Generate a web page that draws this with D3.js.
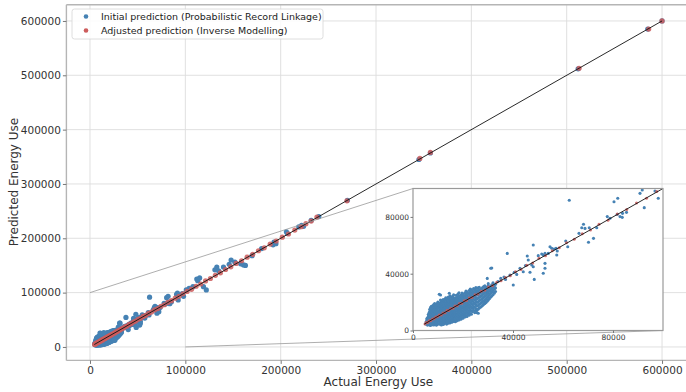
<!DOCTYPE html>
<html>
<head>
<meta charset="utf-8">
<script src="https://cdn.jsdelivr.net/npm/d3@7"></script>
<style>
body { margin: 0; background: #fff; }
svg { font-family: "DejaVu Sans", sans-serif; }
</style>
</head>
<body>
<svg id="chart" width="686" height="392"></svg>
<script>
// all values in thousands of energy units

// dense cluster of the initial prediction: [actual, [predicted ...]]
const clusterColumns = [
  [5.2, [4.5, 6.0]],
  [5.5, [5.0, 6.8, 8.2]],
  [5.8, [3.8, 5.5, 7.2, 9.0]],
  [6.1, [4.6, 7.0, 9.4, 11.2]],
  [6.4, [4.2, 6.1, 8.3, 10.5, 12.4]],
  [6.7, [3.9, 5.8, 8.0, 10.0, 13.3, 15.0]],
  [7.0, [3.5, 5.4, 7.6, 9.8, 11.9, 14.2, 16.1]],
  [7.35, [4.7, 6.9, 9.1, 11.2, 13.5, 15.7, 17.0]],
  [7.7, [4.1, 6.3, 8.5, 10.6, 12.8, 15.0]],
  [8.0, [4.5, 6.8, 9.2, 11.5, 13.7, 15.9, 17.6]],
  [8.3, [3.9, 5.8, 7.9, 10.1, 12.2, 14.5, 16.8, 18.2]],
  [8.65, [4.8, 7.0, 9.3, 11.6, 13.8, 16.0, 18.9]],
  [9.0, [4.4, 6.5, 8.7, 11.0, 13.1, 15.4, 17.3]],
  [9.3, [3.8, 5.4, 7.6, 9.9, 12.1, 14.3, 16.4, 18.4]],
  [9.6, [4.0, 5.9, 8.0, 10.2, 12.3, 14.6, 16.5, 19.0]],
  [9.95, [4.9, 7.1, 9.4, 11.7, 13.9, 16.2, 17.9, 20.1]],
  [10.3, [4.6, 6.8, 9.1, 11.4, 13.5, 15.8, 18.0]],
  [10.65, [5.3, 7.7, 10.0, 12.3, 14.6, 16.9, 19.0]],
  [11.0, [4.3, 6.2, 8.4, 10.6, 12.9, 15.1, 17.2, 19.6, 21.5]],
  [11.35, [3.9, 5.6, 7.8, 10.0, 12.3, 14.6, 16.8, 18.9, 20.9]],
  [11.7, [5.0, 7.3, 9.5, 11.8, 14.0, 16.3, 18.4, 20.2]],
  [12.05, [4.2, 6.0, 8.4, 10.7, 12.9, 15.2, 17.4, 19.6, 21.8]],
  [12.4, [4.7, 6.6, 8.9, 11.1, 13.4, 15.6, 17.9, 20.8]],
  [12.75, [5.7, 8.1, 10.4, 12.8, 15.0, 17.3, 19.6, 22.0]],
  [13.1, [5.3, 7.6, 9.9, 12.2, 14.4, 16.7, 19.0, 21.3, 23.0]],
  [13.45, [4.5, 6.6, 8.9, 11.2, 13.5, 15.8, 18.1, 20.3, 22.6]],
  [13.8, [5.6, 8.0, 10.4, 12.6, 14.9, 17.3, 19.5, 22.1]],
  [14.15, [5.1, 7.2, 9.5, 11.9, 14.1, 16.4, 18.7, 21.0, 23.6]],
  [14.5, [6.0, 8.3, 10.7, 13.0, 15.3, 17.7, 20.0, 22.5]],
  [14.85, [5.4, 7.4, 9.9, 12.2, 14.5, 16.8, 19.1, 21.4, 24.4]],
  [15.2, [6.4, 8.8, 11.2, 13.6, 15.9, 18.2, 20.6, 23.4]],
  [15.55, [5.8, 7.8, 10.2, 12.6, 15.0, 17.3, 19.7, 22.2]],
  [15.9, [7.0, 9.4, 11.8, 14.1, 16.5, 18.8, 21.2, 24.0]],
  [16.25, [6.3, 8.4, 10.8, 13.2, 15.6, 17.9, 20.3, 22.8, 25.2]],
  [16.6, [7.5, 10.0, 12.3, 14.7, 17.1, 19.4, 21.9]],
  [16.95, [6.2, 8.7, 11.1, 13.5, 15.9, 18.3, 20.7, 23.0]],
  [17.3, [7.2, 9.6, 12.0, 14.4, 16.8, 19.2, 21.6, 24.8]],
  [17.65, [6.9, 8.8, 11.3, 13.7, 16.1, 18.5, 20.9, 23.3]],
  [18.0, [8.1, 10.5, 12.9, 15.3, 17.7, 20.1, 22.5, 25.6]],
  [18.4, [7.4, 9.6, 12.0, 14.5, 16.9, 19.3, 21.7, 24.2, 26.6]],
  [18.8, [8.6, 11.0, 13.5, 15.9, 18.3, 20.7, 23.2]],
  [19.2, [8.0, 10.2, 12.7, 15.1, 17.5, 20.0, 22.4, 24.9]],
  [19.6, [9.2, 11.7, 14.1, 16.6, 19.0, 21.5, 24.0, 26.4]],
  [20.0, [8.7, 11.0, 13.4, 15.9, 18.4, 20.8, 23.3, 25.7]],
  [20.4, [10.0, 12.4, 14.9, 17.3, 19.8, 22.3, 24.7]],
  [20.8, [9.5, 11.6, 14.1, 16.6, 19.0, 21.5, 24.0, 26.5]],
  [21.2, [10.6, 13.1, 15.6, 18.1, 20.6, 23.1, 25.5, 27.8]],
  [21.6, [9.9, 12.3, 14.8, 17.3, 19.7, 22.2, 24.7, 27.0]],
  [22.0, [11.5, 14.0, 16.4, 18.9, 21.4, 23.8, 26.2]],
  [22.45, [10.8, 13.2, 15.6, 18.1, 20.6, 23.0, 25.5, 28.2]],
  [22.9, [12.0, 14.6, 17.1, 19.7, 22.2, 24.7, 27.1, 29.2]],
  [23.35, [11.4, 13.8, 16.3, 18.9, 21.4, 23.9, 26.3, 28.6]],
  [23.8, [13.2, 15.6, 18.1, 20.6, 23.1, 25.6, 27.9]],
  [24.25, [14.3, 16.9, 19.4, 22.0, 24.5, 27.0, 29.5]],
  [24.7, [12.6, 16.3, 18.9, 21.4, 23.9, 26.4, 28.8]],
  [25.15, [13.6, 15.3, 17.9, 20.5, 23.0, 25.5, 28.0, 30.3]],
  [25.6, [14.5, 17.2, 19.8, 22.3, 24.8, 27.2, 29.6]],
  [26.05, [15.0, 17.6, 20.2, 22.7, 25.2, 27.7, 30.0]],
  [26.5, [15.8, 18.4, 20.9, 23.4, 25.9, 28.3, 30.5]],
  [26.95, [16.4, 19.0, 21.5, 24.0, 26.5, 28.9]],
  [27.4, [17.0, 19.6, 22.0, 24.5, 27.0, 29.3]],
  [27.85, [17.7, 20.3, 22.8, 25.3, 27.7, 30.2]],
  [28.3, [18.5, 21.0, 23.5, 26.0, 28.4, 30.9]],
  [28.75, [19.1, 21.7, 24.2, 26.7, 29.1, 31.4]],
  [29.2, [19.8, 22.4, 24.8, 27.3, 29.7]],
  [29.65, [20.6, 23.2, 25.7, 28.1, 30.6]],
  [30.1, [21.5, 24.0, 26.5, 28.9, 31.5]],
  [30.55, [22.4, 25.0, 27.6, 30.1]],
  [31.0, [23.4, 26.0, 28.6, 31.0]],
  [31.5, [24.3, 27.0, 29.5, 32.2]],
  [32.0, [25.2, 28.1, 30.4, 33.6]],
  [32.5, [26.3, 29.0, 31.6]],
  [33.0, [27.5, 30.0, 32.5]]
];

// scattered initial predictions: [actual, predicted]
const initialOutliers = [
  [10.5, 25.5], [11.0, 25.0], [14.5, 26.2], [25.5, 12.6], [26.1, 12.2],
  [29.7, 36.7], [30.1, 33.0], [31.1, 43.8], [31.5, 44.0], [34.0, 34.5],
  [35.1, 36.7], [36.4, 37.7], [37.0, 36.0], [37.7, 54.3], [38.8, 39.1],
  [40.1, 32.0], [40.5, 41.0], [41.5, 39.5], [42.8, 43.8], [44.1, 41.4],
  [45.0, 45.8], [45.7, 52.5], [46.1, 49.6], [46.8, 41.0], [47.5, 46.1],
  [48.1, 44.9], [48.1, 60.2], [48.5, 36.0], [50.1, 52.7], [51.5, 53.9],
  [52.1, 53.2], [52.8, 54.3], [52.8, 47.3], [52.8, 43.8], [52.1, 40.3],
  [54.1, 54.3], [54.8, 59.0], [55.5, 57.9], [56.4, 57.4], [57.2, 57.9],
  [57.7, 56.0], [57.5, 53.2], [61.1, 63.0], [61.9, 59.0], [62.5, 91.7],
  [66.4, 68.4], [67.5, 72.4], [68.2, 74.8], [68.8, 71.9], [70.5, 72.4],
  [70.2, 62.1], [72.2, 64.9], [73.5, 72.4], [77.7, 80.2], [78.8, 79.0],
  [80.4, 90.7], [81.9, 93.1], [81.7, 81.8], [82.8, 80.2], [83.8, 82.5],
  [85.4, 83.2], [83.7, 79.7], [90.8, 96.6], [91.7, 98.9], [92.5, 86.5],
  [96.8, 98.2], [98.1, 93.1],
  [101, 105], [104, 108], [108, 111], [112, 125], [113, 122], [115, 127],
  [119, 111], [122, 105], [131, 142], [133, 147], [135, 140], [140, 147],
  [146, 152], [148, 160], [152, 156], [158, 153], [161, 151], [163, 150],
  [170, 168], [180, 181], [192, 188], [193, 193], [195, 190], [206, 212],
  [207, 209], [219, 221], [222, 224], [224, 222], [232, 233], [240, 240],
  [270, 270], [345, 345], [357, 357], [512, 512], [585, 585], [600, 600]
];

// adjusted predictions: [actual, adjusted]
const adjustedPoints = [
  [4.8, 4.5], [5.3, 5.6], [5.9, 5.7], [6.5, 6.9], [7.1, 6.8], [7.8, 8.1],
  [8.4, 8.2], [9.1, 9.5], [9.8, 9.6], [10.5, 10.9], [11.3, 11.0], [12.0, 12.4],
  [12.8, 12.5], [13.6, 14.0], [14.3, 14.1], [15.1, 15.5], [16.0, 15.7],
  [16.8, 17.2], [17.7, 17.4], [18.6, 19.0], [19.5, 19.2], [20.5, 20.9],
  [21.4, 21.1], [22.5, 22.8], [23.6, 23.3], [24.8, 25.2], [26.0, 25.7],
  [27.3, 27.7], [28.7, 28.4], [30.2, 30.6], [31.8, 31.5], [33.5, 33.9],
  [35.2, 35.0], [37.0, 37.4], [38.9, 38.6], [41.0, 41.4], [43.2, 42.9],
  [45.5, 45.9], [47.9, 47.6], [50.4, 50.8], [53.0, 52.7], [55.7, 56.1],
  [58.5, 58.2], [61.4, 61.8], [64.5, 64.2], [67.7, 68.1], [71.0, 70.7],
  [74.4, 74.8], [78.0, 77.7], [81.7, 82.1], [85.5, 85.2], [89.4, 89.8],
  [93.4, 93.1], [97.5, 97.9],
  [101.8, 102.2], [106.5, 106.1], [111.3, 111.7], [116.2, 115.9],
  [121.2, 121.6], [126.3, 126.0], [131.5, 131.9], [136.8, 136.5],
  [142.2, 142.6], [147.7, 147.4], [153.3, 153.7], [159.0, 158.7],
  [164.8, 165.2], [170.7, 170.4], [176.7, 177.1], [182.8, 182.5],
  [189.0, 189.4], [195.3, 195.0], [201.7, 202.1], [208.2, 207.9],
  [214.8, 215.2], [221.5, 221.2], [226.5, 226.9], [232.0, 231.7],
  [238.0, 239.0], [269.5, 269.0], [346, 347], [357, 358], [513, 513],
  [586, 585], [600, 600]
];

const perfectLine = [[4.5, 4.5], [600, 600]];
const mainTicks = [0, 100000, 200000, 300000, 400000, 500000, 600000];
const insetTicks = [0, 40000, 80000];
const legendLabels = ["Initial prediction (Probabilistic Record Linkage)", "Adjusted prediction (Inverse Modelling)"];

const blue = "steelblue";
const red = "indianred";

// build point lists (thousands -> units)
let initialPoints = [];
clusterColumns.forEach(c => c[1].forEach(p => initialPoints.push([c[0] * 1000, p * 1000])));
initialOutliers.forEach(p => initialPoints.push([p[0] * 1000, p[1] * 1000]));
let adjusted = adjustedPoints.map(p => [p[0] * 1000, p[1] * 1000]);
let linePts = perfectLine.map(p => [p[0] * 1000, p[1] * 1000]);

const svg = d3.select("#chart");

// main axes
const x = d3.scaleLinear().domain([-24750, 629750]).range([66.4, 690.4]);
const y = d3.scaleLinear().domain([-24750, 629750]).range([360.4, 4.8]);

svg.append("clipPath").attr("id", "mainclip").append("rect")
  .attr("x", 66.4).attr("y", 4.8).attr("width", 624).attr("height", 355.6);

// grid
svg.append("g").selectAll("line").data(mainTicks).enter().append("line")
  .attr("x1", d => x(d)).attr("x2", d => x(d)).attr("y1", 4.8).attr("y2", 360.4)
  .attr("stroke", "#dcdcdc").attr("stroke-width", 0.9);
svg.append("g").selectAll("line").data(mainTicks).enter().append("line")
  .attr("x1", 66.4).attr("x2", 690.4).attr("y1", d => y(d)).attr("y2", d => y(d))
  .attr("stroke", "#dcdcdc").attr("stroke-width", 0.9);

const plot = svg.append("g").attr("clip-path", "url(#mainclip)");

plot.selectAll(".ib").data(initialPoints).enter().append("circle")
  .attr("cx", d => x(d[0])).attr("cy", d => y(d[1])).attr("r", 2.6)
  .attr("fill", blue);
plot.selectAll(".ar").data(adjusted).enter().append("circle")
  .attr("cx", d => x(d[0])).attr("cy", d => y(d[1])).attr("r", 2.6)
  .attr("fill", red).attr("opacity", 0.85);
plot.append("path").datum(linePts)
  .attr("d", d3.line().x(d => x(d[0])).y(d => y(d[1])))
  .attr("stroke", "#111").attr("stroke-width", 0.9).attr("fill", "none");

// inset connectors
const ix = d3.scaleLinear().domain([0, 100000]).range([413, 663]);
const iy = d3.scaleLinear().domain([0, 100000]).range([330.5, 188.5]);

svg.append("line").attr("x1", x(0)).attr("y1", y(100000)).attr("x2", ix(0)).attr("y2", iy(100000))
  .attr("stroke", "#999").attr("stroke-width", 0.8);
svg.append("line").attr("x1", x(100000)).attr("y1", y(0)).attr("x2", ix(100000)).attr("y2", iy(0))
  .attr("stroke", "#999").attr("stroke-width", 0.8);

// spines
const spine = "#b5b5b5";
svg.append("line").attr("x1", 66.4).attr("x2", 66.4).attr("y1", 4.8).attr("y2", 360.4).attr("stroke", spine).attr("stroke-width", 1.4);
svg.append("line").attr("x1", 66.4).attr("x2", 690.4).attr("y1", 4.8).attr("y2", 4.8).attr("stroke", spine).attr("stroke-width", 1.4);
svg.append("line").attr("x1", 66.4).attr("x2", 690.4).attr("y1", 360.4).attr("y2", 360.4).attr("stroke", spine).attr("stroke-width", 1.4);

// axes
const xAxis = svg.append("g").attr("transform", "translate(0,360.4)")
  .call(d3.axisBottom(x).tickValues(mainTicks).tickFormat(d3.format("d")).tickSize(3.5).tickPadding(3));
const yAxis = svg.append("g").attr("transform", "translate(66.4,0)")
  .call(d3.axisLeft(y).tickValues(mainTicks).tickFormat(d3.format("d")).tickSize(3.5).tickPadding(2));
[xAxis, yAxis].forEach(a => {
  a.select(".domain").remove();
  a.selectAll(".tick line").attr("stroke", "#777");
  a.selectAll("text").attr("fill", "#333").style("font-size", "10.5px").style("font-family", "DejaVu Sans");
});

svg.append("text").attr("x", 378.4).attr("y", 386).attr("text-anchor", "middle")
  .style("font-size", "12px").attr("fill", "#333").text("Actual Energy Use");
svg.append("text").attr("transform", "translate(18,182) rotate(-90)").attr("text-anchor", "middle")
  .style("font-size", "12px").attr("fill", "#333").text("Predicted Energy Use");

// legend
const lg = svg.append("g");
lg.append("rect").attr("x", 72).attr("y", 9).attr("width", 251).attr("height", 30).attr("rx", 2.5)
  .attr("fill", "#fff").attr("fill-opacity", 0.85).attr("stroke", "#d5d5d5").attr("stroke-width", 0.8);
legendLabels.forEach((t, i) => {
  lg.append("circle").attr("cx", 86).attr("cy", 16.5 + i * 14).attr("r", 2.3)
    .attr("fill", i === 0 ? blue : red);
  lg.append("text").attr("x", 101).attr("y", 20 + i * 14)
    .style("font-size", "9.5px").attr("fill", "#222").text(t);
});

// inset
const inset = svg.append("g");
inset.append("rect").attr("x", 413).attr("y", 188.5).attr("width", 250).attr("height", 142).attr("fill", "#fff");
inset.append("clipPath").attr("id", "insetclip").append("rect")
  .attr("x", 413).attr("y", 188.5).attr("width", 250).attr("height", 142);
const ip = inset.append("g").attr("clip-path", "url(#insetclip)");
ip.selectAll(".ib").data(initialPoints).enter().append("circle")
  .attr("cx", d => ix(d[0])).attr("cy", d => iy(d[1])).attr("r", 1.55)
  .attr("fill", blue);
ip.selectAll(".ar").data(adjusted).enter().append("circle")
  .attr("cx", d => ix(d[0])).attr("cy", d => iy(d[1])).attr("r", 1.5)
  .attr("fill", red).attr("opacity", 0.85);
ip.append("path").datum(linePts)
  .attr("d", d3.line().x(d => ix(d[0])).y(d => iy(d[1])))
  .attr("stroke", "#111").attr("stroke-width", 0.9).attr("fill", "none");
inset.append("rect").attr("x", 413).attr("y", 188.5).attr("width", 250).attr("height", 142)
  .attr("fill", "none").attr("stroke", "#999").attr("stroke-width", 1.2);

const ixAxis = inset.append("g").attr("transform", "translate(0,330.5)")
  .call(d3.axisBottom(ix).tickValues(insetTicks).tickFormat(d3.format("d")).tickSize(2.5).tickPadding(1.5));
const iyAxis = inset.append("g").attr("transform", "translate(413,0)")
  .call(d3.axisLeft(iy).tickValues(insetTicks).tickFormat(d3.format("d")).tickSize(2.5).tickPadding(1.5));
[ixAxis, iyAxis].forEach(a => {
  a.select(".domain").remove();
  a.selectAll(".tick line").attr("stroke", "#777");
  a.selectAll("text").attr("fill", "#333").style("font-size", "7.5px").style("font-family", "DejaVu Sans");
});
</script>
</body>
</html>
